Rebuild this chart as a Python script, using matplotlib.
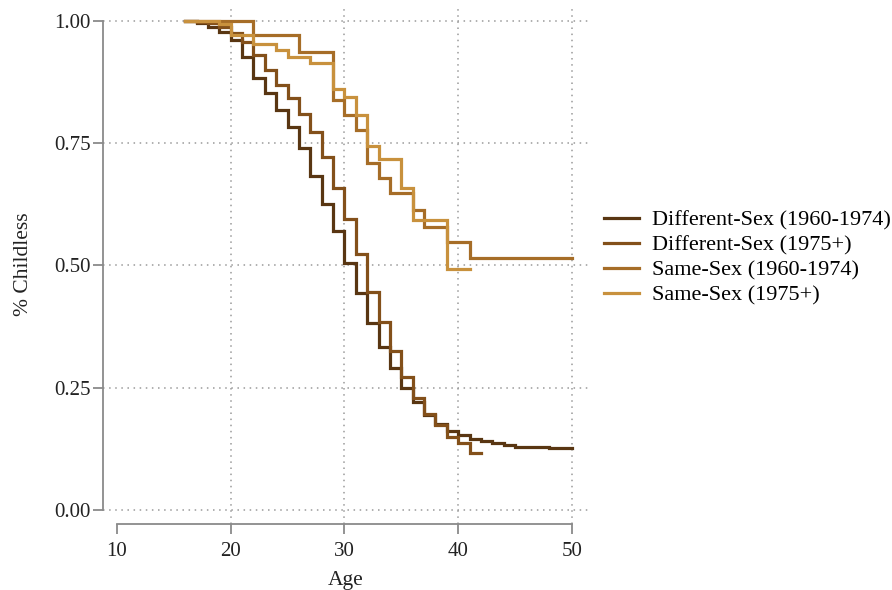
import matplotlib
matplotlib.use("Agg")
import matplotlib.pyplot as plt
from matplotlib.lines import Line2D

# ---- data ----
labels = ["Different-Sex (1960-1974)", "Different-Sex (1975+)",
          "Same-Sex (1960-1974)", "Same-Sex (1975+)"]
colors = ["#593612", "#83501a", "#a66d27", "#c8913d"]

ds60_age = [16, 17, 18, 19, 20, 21, 22, 23, 24, 25, 26, 27, 28, 29, 30, 31, 32, 33,
            34, 35, 36, 37, 38, 39, 40, 41, 42, 43, 44, 45, 46, 47, 48, 49, 50]
ds60_surv = [1.0, 0.994, 0.987, 0.977, 0.960, 0.925, 0.882, 0.851, 0.817, 0.783,
             0.739, 0.682, 0.625, 0.569, 0.504, 0.443, 0.383, 0.332, 0.290, 0.250,
             0.221, 0.194, 0.175, 0.162, 0.153, 0.146, 0.141, 0.136, 0.133, 0.129,
             0.129, 0.128, 0.127, 0.126, 0.126]

ds75_age = [16, 17, 18, 19, 20, 21, 22, 23, 24, 25, 26, 27, 28, 29, 30, 31, 32, 33,
            34, 35, 36, 37, 38, 39, 40, 41, 42]
ds75_surv = [1.0, 0.997, 0.994, 0.987, 0.974, 0.956, 0.930, 0.899, 0.868, 0.841,
             0.810, 0.773, 0.721, 0.657, 0.594, 0.523, 0.446, 0.385, 0.325, 0.272,
             0.228, 0.196, 0.174, 0.149, 0.137, 0.117, 0.117]

ss60_age = [16, 22, 26, 29, 30, 31, 32, 33, 34, 36, 37, 39, 41, 50]
ss60_surv = [1.0, 0.970, 0.936, 0.838, 0.807, 0.776, 0.708, 0.678, 0.647, 0.613,
             0.579, 0.548, 0.515, 0.515]

ss75_age = [16, 19, 20, 22, 24, 25, 27, 29, 30, 31, 32, 33, 35, 36, 39, 41]
ss75_surv = [1.0, 0.993, 0.970, 0.953, 0.940, 0.926, 0.913, 0.861, 0.844, 0.807,
             0.744, 0.718, 0.657, 0.592, 0.492, 0.492]

series = [(ds60_age, ds60_surv), (ds75_age, ds75_surv),
          (ss60_age, ss60_surv), (ss75_age, ss75_surv)]

xticks = [10, 20, 30, 40, 50]
yticks = [0.0, 0.25, 0.5, 0.75, 1.0]
ytick_labels = ["0.00", "0.25", "0.50", "0.75", "1.00"]

# ---- figure ----
plt.rcParams['font.family'] = ['Liberation Serif', 'DejaVu Serif']
W, H = 892, 590
fig = plt.figure(figsize=(W / 100, H / 100), dpi=100)
ax = fig.add_axes([103 / W, (H - 524) / H, 485 / W, 519 / H])

gridc = "#9a9a9a"
for yv in yticks:
    ax.axhline(yv, color=gridc, lw=1.1, ls=(0, (1, 3)), zorder=1)
for xv in xticks[1:]:
    ax.axvline(xv, color=gridc, lw=1.1, ls=(0, (1, 3)), zorder=1)

for (a, s), c, lab in zip(series, colors, labels):
    ax.step(a, s, where="post", color=c, lw=2.3, label=lab, zorder=3,
            solid_joinstyle="miter")

ax.set_xlim(8.77, 51.41)
ax.set_ylim(-0.0286, 1.0317)

for sp in ["top", "right"]:
    ax.spines[sp].set_visible(False)
ax.spines["left"].set_bounds(0, 1)
ax.spines["bottom"].set_bounds(10, 50)
for sp in ["left", "bottom"]:
    ax.spines[sp].set_color("#8a8a8a")
    ax.spines[sp].set_linewidth(1.3)

ax.set_xticks(xticks)
ax.set_yticks(yticks)
ax.set_yticklabels(ytick_labels)
ax.tick_params(axis="both", colors="#8a8a8a", width=1.3, length=7,
               labelsize=15, labelcolor="#222222")
ax.tick_params(axis="y", pad=2)
ax.tick_params(axis="x", pad=6)

ax.set_xlabel("Age", fontsize=15.5, color="#222222", labelpad=7)
ax.set_ylabel("% Childless", fontsize=15.5, color="#222222", labelpad=15)

handles = [Line2D([0], [0], color=c, lw=2.3) for c in colors]
fig.legend(handles, labels, loc="center left", bbox_to_anchor=(595 / W, 1 - 258 / H),
           frameon=False, fontsize=16, handlelength=1.6, handletextpad=0.55,
           labelspacing=0.2, borderaxespad=0)

fig.savefig("out.png", dpi=100, facecolor="white")
